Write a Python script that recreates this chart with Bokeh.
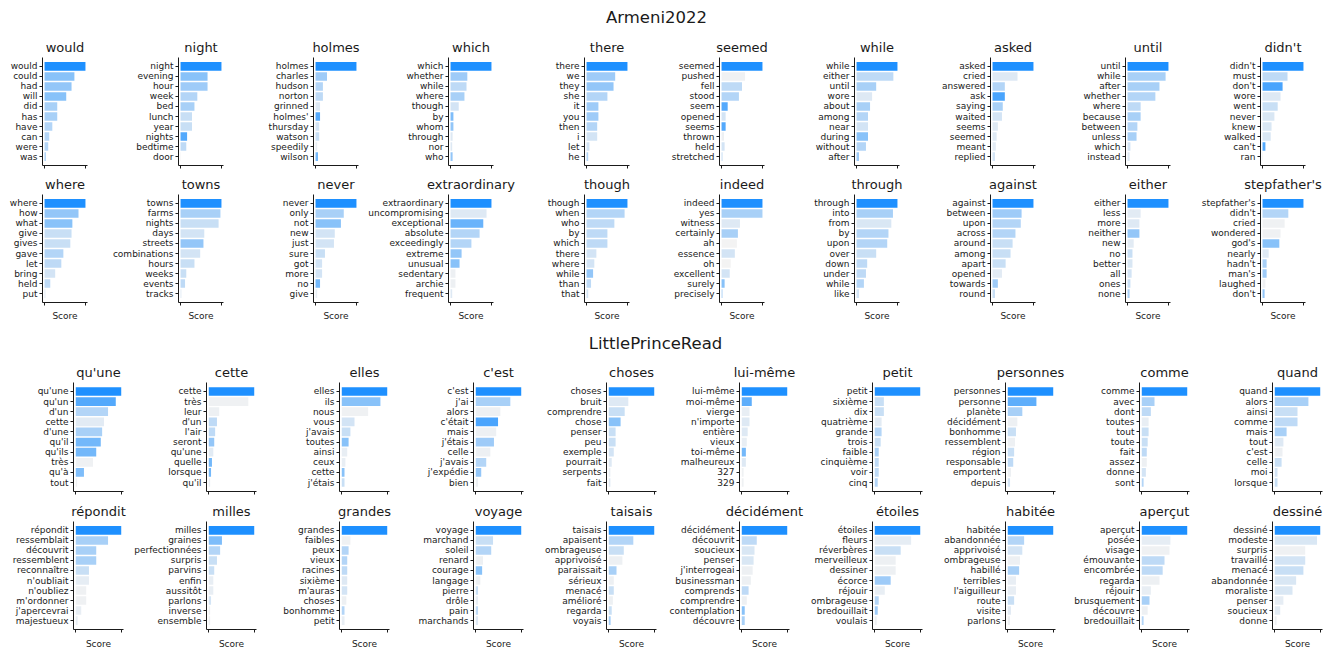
import numpy as np
from bokeh.plotting import figure
from bokeh.layouts import column, row
from bokeh.models import Range1d, FactorRange, FixedTicker, CustomJSTickFormatter
from bokeh.embed import file_html
from bokeh.resources import INLINE
from bokeh.core.properties import value

# ---------------------------------------------------------------- data
SECTION_TITLES = ["Armeni2022", "LittlePrinceRead"]

ARMENI_TITLES = ["would", "night", "holmes", "which", "there", "seemed", "while", "asked", "until", "didn't",
                 "where", "towns", "never", "extraordinary", "though", "indeed", "through", "against", "either",
                 "stepfather's"]

ARMENI_WORDS = [
    ["would", "could", "had", "will", "did", "has", "have", "can", "were", "was"],
    ["night", "evening", "hour", "week", "bed", "lunch", "year", "nights", "bedtime", "door"],
    ["holmes", "charles", "hudson", "norton", "grinned", "holmes'", "thursday", "watson", "speedily", "wilson"],
    ["which", "whether", "while", "where", "though", "by", "whom", "through", "nor", "who"],
    ["there", "we", "they", "she", "it", "you", "then", "i", "let", "he"],
    ["seemed", "pushed", "fell", "stood", "seem", "opened", "seems", "thrown", "held", "stretched"],
    ["while", "either", "until", "wore", "about", "among", "near", "during", "without", "after"],
    ["asked", "cried", "answered", "ask", "saying", "waited", "seems", "seemed", "meant", "replied"],
    ["until", "while", "after", "whether", "where", "because", "between", "unless", "which", "instead"],
    ["didn't", "must", "don't", "wore", "went", "never", "knew", "walked", "can't", "ran"],
    ["where", "how", "what", "give", "gives", "gave", "let", "bring", "held", "put"],
    ["towns", "farms", "nights", "days", "streets", "combinations", "hours", "weeks", "events", "tracks"],
    ["never", "only", "not", "new", "just", "sure", "got", "more", "no", "give"],
    ["extraordinary", "uncompromising", "exceptional", "absolute", "exceedingly", "extreme", "unusual",
     "sedentary", "archie", "frequent"],
    ["though", "when", "who", "by", "which", "there", "where", "while", "than", "that"],
    ["indeed", "yes", "witness", "certainly", "ah", "essence", "oh", "excellent", "surely", "precisely"],
    ["through", "into", "from", "by", "upon", "over", "down", "under", "while", "like"],
    ["against", "between", "upon", "across", "around", "among", "apart", "opened", "towards", "round"],
    ["either", "less", "more", "neither", "new", "no", "better", "all", "ones", "none"],
    ["stepfather's", "didn't", "cried", "wondered", "god's", "nearly", "hadn't", "man's", "laughed", "don't"],
]

ARMENI_SCORES = [
    [1.0, 0.73, 0.66, 0.53, 0.31, 0.31, 0.19, 0.115, 0.09, 0.03],
    [1.0, 0.66, 0.66, 0.41, 0.34, 0.28, 0.28, 0.16, 0.14, 0.01],
    [1.0, 0.28, 0.18, 0.18, 0.11, 0.11, 0.09, 0.09, 0.04, 0.06],
    [1.0, 0.41, 0.39, 0.34, 0.20, 0.07, 0.07, 0.05, 0.04, 0.05],
    [1.0, 0.70, 0.66, 0.51, 0.29, 0.29, 0.26, 0.26, 0.07, 0.04],
    [1.0, 0.575, 0.50, 0.425, 0.15, 0.10, 0.10, 0.06, 0.075, 0.025],
    [1.0, 0.90, 0.48, 0.38, 0.33, 0.28, 0.28, 0.28, 0.23, 0.06],
    [1.0, 0.61, 0.30, 0.30, 0.25, 0.23, 0.13, 0.10, 0.08, 0.06],
    [1.0, 0.93, 0.78, 0.68, 0.32, 0.32, 0.24, 0.22, 0.07, 0.05],
    [1.0, 0.61, 0.49, 0.44, 0.37, 0.29, 0.22, 0.20, 0.07, 0.01],
    [1.0, 0.83, 0.68, 0.66, 0.63, 0.46, 0.41, 0.26, 0.14, 0.02],
    [1.0, 0.975, 0.93, 0.58, 0.56, 0.48, 0.34, 0.14, 0.11, 0.02],
    [1.0, 0.69, 0.62, 0.47, 0.45, 0.23, 0.16, 0.16, 0.11, 0.04],
    [1.0, 0.88, 0.80, 0.71, 0.51, 0.27, 0.22, 0.12, 0.12, 0.04],
    [1.0, 0.93, 0.68, 0.51, 0.51, 0.24, 0.19, 0.16, 0.11, 0.04],
    [1.0, 1.0, 0.45, 0.40, 0.375, 0.325, 0.225, 0.20, 0.075, 0.025],
    [1.0, 0.89, 0.85, 0.78, 0.75, 0.48, 0.26, 0.23, 0.18, 0.06],
    [1.0, 0.71, 0.69, 0.56, 0.49, 0.44, 0.32, 0.23, 0.13, 0.06],
    [1.0, 0.32, 0.29, 0.29, 0.15, 0.12, 0.12, 0.10, 0.07, 0.05],
    [1.0, 0.63, 0.54, 0.44, 0.41, 0.15, 0.10, 0.10, 0.07, 0.05],
]

# colour intensity of each bar (0 = pale grey, 1 = full blue)
ARMENI_SHADES = [
    [1.0, 0.50, 0.45, 0.50, 0.35, 0.35, 0.30, 0.30, 0.30, 0.40],
    [1.0, 0.50, 0.40, 0.30, 0.35, 0.20, 0.20, 0.75, 0.25, 0.00],
    [1.0, 0.40, 0.30, 0.25, 0.10, 0.75, 0.15, 0.20, 0.05, 0.60],
    [1.0, 0.40, 0.25, 0.35, 0.15, 0.55, 0.45, 0.10, 0.10, 0.45],
    [1.0, 0.40, 0.45, 0.30, 0.40, 0.40, 0.30, 0.15, 0.15, 0.30],
    [1.0, 0.02, 0.25, 0.30, 0.75, 0.15, 0.75, 0.03, 0.15, 0.20],
    [1.0, 0.25, 0.35, 0.10, 0.35, 0.30, 0.15, 0.50, 0.30, 0.40],
    [1.0, 0.10, 0.30, 0.80, 0.35, 0.15, 0.10, 0.10, 0.08, 0.15],
    [1.0, 0.35, 0.35, 0.30, 0.25, 0.35, 0.30, 0.35, 0.15, 0.10],
    [1.0, 0.25, 0.80, 0.10, 0.20, 0.12, 0.12, 0.12, 0.75, 0.00],
    [1.0, 0.45, 0.50, 0.20, 0.20, 0.30, 0.25, 0.15, 0.25, 0.10],
    [1.0, 0.35, 0.20, 0.15, 0.45, 0.15, 0.20, 0.20, 0.25, 0.10],
    [1.0, 0.35, 0.50, 0.15, 0.15, 0.20, 0.15, 0.15, 0.60, 0.05],
    [1.0, 0.10, 0.65, 0.30, 0.30, 0.45, 0.50, 0.03, 0.03, 0.10],
    [1.0, 0.30, 0.25, 0.25, 0.25, 0.15, 0.15, 0.45, 0.25, 0.15],
    [1.0, 0.35, 0.10, 0.35, 0.00, 0.15, 0.00, 0.15, 0.50, 0.30],
    [1.0, 0.35, 0.12, 0.30, 0.30, 0.20, 0.25, 0.25, 0.30, 0.15],
    [1.0, 0.40, 0.30, 0.30, 0.20, 0.20, 0.20, 0.08, 0.40, 0.20],
    [1.0, 0.08, 0.10, 0.45, 0.08, 0.20, 0.12, 0.15, 0.20, 0.35],
    [1.0, 0.30, 0.02, 0.02, 0.50, 0.10, 0.35, 0.40, 0.02, 0.45],
]

PRINCE_TITLES = ["qu'une", "cette", "elles", "c'est", "choses", "lui-même", "petit", "personnes", "comme", "quand",
                 "répondit", "milles", "grandes", "voyage", "taisais", "décidément", "étoiles", "habitée", "aperçut",
                 "dessiné"]

PRINCE_WORDS = [
    ["qu'une", "qu'un", "d'un", "cette", "d'une", "qu'il", "qu'ils", "très", "qu'à", "tout"],
    ["cette", "très", "leur", "d'un", "l'air", "seront", "qu'une", "quelle", "lorsque", "qu'il"],
    ["elles", "ils", "nous", "vous", "j'avais", "toutes", "ainsi", "ceux", "cette", "j'étais"],
    ["c'est", "j'ai", "alors", "c'était", "mais", "j'étais", "celle", "j'avais", "j'expédie", "bien"],
    ["choses", "bruit", "comprendre", "chose", "penser", "peu", "exemple", "pourrait", "serpents", "fait"],
    ["lui-même", "moi-même", "vierge", "n'importe", "entière", "vieux", "toi-même", "malheureux", "327", "329"],
    ["petit", "sixième", "dix", "quatrième", "grande", "trois", "faible", "cinquième", "voir", "cinq"],
    ["personnes", "personne", "planète", "décidément", "bonhomme", "ressemblent", "région", "responsable",
     "emportent", "depuis"],
    ["comme", "avec", "dont", "toutes", "tout", "toute", "fait", "assez", "donne", "sont"],
    ["quand", "alors", "ainsi", "comme", "mais", "tout", "c'est", "celle", "moi", "lorsque"],
    ["répondit", "ressemblait", "découvrit", "ressemblent", "reconnaître", "n'oubliait", "n'oubliez",
     "m'ordonner", "j'apercevrai", "majestueux"],
    ["milles", "graines", "perfectionnées", "surpris", "parvins", "enfin", "aussitôt", "parlons", "inverse",
     "ensemble"],
    ["grandes", "faibles", "peux", "vieux", "racines", "sixième", "m'auras", "choses", "bonhomme", "petit"],
    ["voyage", "marchand", "soleil", "renard", "courage", "langage", "pierre", "drôle", "pain", "marchands"],
    ["taisais", "apaisent", "ombrageuse", "apprivoisé", "paraissait", "sérieux", "menacé", "amélioré",
     "regarda", "voyais"],
    ["décidément", "découvrit", "soucieux", "penser", "j'interrogeai", "businessman", "comprends",
     "comprendre", "contemplation", "découvre"],
    ["étoiles", "fleurs", "réverbères", "merveilleux", "dessiner", "écorce", "réjouir", "ombrageuse",
     "bredouillait", "voulais"],
    ["habitée", "abandonnée", "apprivoisé", "ombrageuse", "habillé", "terribles", "l'aiguilleur", "route",
     "visite", "parlons"],
    ["aperçut", "posée", "visage", "émouvante", "encombrée", "regarda", "réjouir", "brusquement", "découvre",
     "bredouillait"],
    ["dessiné", "modeste", "surpris", "travaillé", "menacé", "abandonnée", "moraliste", "penser", "soucieux",
     "donne"],
]

PRINCE_SCORES = [
    [1.0, 0.88, 0.71, 0.62, 0.58, 0.55, 0.45, 0.38, 0.18, 0.03],
    [1.0, 0.87, 0.23, 0.18, 0.14, 0.12, 0.10, 0.07, 0.05, 0.03],
    [1.0, 0.85, 0.58, 0.28, 0.19, 0.15, 0.12, 0.08, 0.06, 0.06],
    [1.0, 0.76, 0.54, 0.49, 0.45, 0.40, 0.32, 0.23, 0.12, 0.05],
    [1.0, 0.43, 0.35, 0.26, 0.15, 0.15, 0.11, 0.065, 0.035, 0.035],
    [1.0, 0.22, 0.17, 0.17, 0.13, 0.11, 0.09, 0.09, 0.04, 0.04],
    [1.0, 0.20, 0.20, 0.15, 0.15, 0.13, 0.087, 0.087, 0.087, 0.065],
    [1.0, 0.63, 0.32, 0.21, 0.18, 0.16, 0.14, 0.12, 0.07, 0.05],
    [1.0, 0.28, 0.20, 0.15, 0.15, 0.13, 0.11, 0.11, 0.09, 0.04],
    [1.0, 0.74, 0.50, 0.50, 0.26, 0.19, 0.17, 0.15, 0.06, 0.06],
    [1.0, 0.71, 0.45, 0.45, 0.29, 0.29, 0.23, 0.23, 0.12, 0.04],
    [1.0, 0.29, 0.25, 0.18, 0.12, 0.10, 0.10, 0.05, 0.03, 0.03],
    [1.0, 0.19, 0.15, 0.12, 0.12, 0.12, 0.12, 0.10, 0.06, 0.06],
    [1.0, 0.38, 0.34, 0.16, 0.14, 0.10, 0.05, 0.05, 0.05, 0.05],
    [1.0, 0.54, 0.33, 0.30, 0.17, 0.11, 0.11, 0.09, 0.065, 0.04],
    [1.0, 0.33, 0.28, 0.26, 0.24, 0.20, 0.15, 0.11, 0.065, 0.065],
    [1.0, 0.80, 0.57, 0.46, 0.46, 0.35, 0.22, 0.087, 0.065, 0.043],
    [1.0, 0.36, 0.32, 0.27, 0.25, 0.18, 0.18, 0.14, 0.07, 0.05],
    [1.0, 0.63, 0.61, 0.50, 0.46, 0.39, 0.20, 0.17, 0.13, 0.04],
    [1.0, 0.93, 0.67, 0.67, 0.63, 0.47, 0.39, 0.19, 0.12, 0.04],
]

PRINCE_SHADES = [
    [1.0, 0.75, 0.30, 0.08, 0.35, 0.60, 0.60, 0.02, 0.55, 0.02],
    [1.0, 0.02, 0.03, 0.25, 0.25, 0.45, 0.08, 0.60, 0.60, 0.05],
    [1.0, 0.50, 0.02, 0.15, 0.20, 0.50, 0.05, 0.05, 0.50, 0.20],
    [1.0, 0.35, 0.03, 0.80, 0.03, 0.40, 0.03, 0.30, 0.45, 0.03],
    [1.0, 0.10, 0.20, 0.50, 0.20, 0.20, 0.15, 0.10, 0.05, 0.10],
    [1.0, 0.70, 0.05, 0.10, 0.10, 0.05, 0.60, 0.10, 0.02, 0.02],
    [1.0, 0.20, 0.20, 0.08, 0.30, 0.20, 0.35, 0.25, 0.25, 0.30],
    [1.0, 0.70, 0.35, 0.03, 0.20, 0.03, 0.20, 0.25, 0.03, 0.15],
    [1.0, 0.35, 0.25, 0.05, 0.20, 0.20, 0.25, 0.03, 0.15, 0.30],
    [1.0, 0.35, 0.20, 0.25, 0.35, 0.10, 0.03, 0.20, 0.15, 0.20],
    [1.0, 0.35, 0.35, 0.35, 0.20, 0.06, 0.02, 0.02, 0.05, 0.05],
    [1.0, 0.55, 0.30, 0.20, 0.20, 0.05, 0.05, 0.15, 0.03, 0.03],
    [1.0, 0.02, 0.30, 0.30, 0.25, 0.10, 0.15, 0.03, 0.30, 0.05],
    [1.0, 0.20, 0.30, 0.03, 0.50, 0.03, 0.20, 0.05, 0.25, 0.10],
    [1.0, 0.30, 0.20, 0.03, 0.35, 0.03, 0.20, 0.03, 0.20, 0.40],
    [1.0, 0.25, 0.12, 0.12, 0.03, 0.03, 0.25, 0.03, 0.50, 0.35],
    [1.0, 0.06, 0.20, 0.03, 0.03, 0.40, 0.05, 0.30, 0.40, 0.03],
    [1.0, 0.30, 0.15, 0.03, 0.35, 0.05, 0.05, 0.20, 0.08, 0.03],
    [1.0, 0.06, 0.02, 0.25, 0.25, 0.03, 0.05, 0.35, 0.03, 0.30],
    [1.0, 0.12, 0.02, 0.15, 0.20, 0.12, 0.12, 0.06, 0.08, 0.03],
]

# ---------------------------------------------------------------- styling
FONT = "DejaVu Sans"
INK = "#1a1a1a"
PALE = np.array([243, 243, 243], dtype=float)
BLUE = np.array([30, 144, 255], dtype=float)
PAGE_W = 1334
TITLE_PX, HEADING_PX = 13, 16.5
BASELINE_LIFT = 0.37      # em fraction: keeps the text baseline where requested in the SVG output

TOP_SPINES = [int(round(42.5 + 135.3 * i)) for i in range(10)]      # frame left edges, Armeni rows
BOTTOM_SPINES = [int(round(73 + 133.2 * i)) for i in range(10)]     # frame left edges, Little Prince rows
TOP_FRAME_W, BOTTOM_FRAME_W = 45, 50


def shade_colour(s):
    c = PALE + (BLUE - PALE) * float(s)
    return "#%02x%02x%02x" % tuple(int(round(v)) for v in c)


def panel(words, scores, shades, left, frame_w, right, frame_h, bottom, label_standoff):
    p = figure(width=left + frame_w + right, height=frame_h + bottom,
               x_range=Range1d(-0.05, 1.05),
               y_range=FactorRange(factors=list(reversed(words)), range_padding=0.39,
                                   range_padding_units="absolute"),
               min_border_left=left, min_border_right=right,
               min_border_top=0, min_border_bottom=bottom,
               output_backend="svg", toolbar_location=None)
    p.hbar(y=words, left=0, right=scores, height=0.86,
           fill_color=[shade_colour(s) for s in shades], line_color=None)

    p.grid.visible = False
    p.outline_line_color = None

    for ax in (p.xaxis[0], p.yaxis[0]):
        ax.axis_line_color = INK
        ax.axis_line_width = 1
        ax.major_tick_line_color = INK
        ax.major_tick_out = 3
        ax.major_tick_in = 0
        ax.minor_tick_line_color = None

    ya = p.yaxis[0]
    ya.major_label_text_font = FONT
    ya.major_label_text_font_size = "9px"
    ya.major_label_text_color = INK
    ya.major_label_standoff = 2

    xa = p.xaxis[0]
    xa.ticker = FixedTicker(ticks=[0, 1])
    xa.formatter = CustomJSTickFormatter(code="return ''")
    xa.major_label_standoff = 0
    xa.major_label_text_font_size = "9px"
    if label_standoff is not None:
        xa.axis_label = "Score"
        xa.axis_label_text_font = FONT
        xa.axis_label_text_font_size = "9px"
        xa.axis_label_text_font_style = "normal"
        xa.axis_label_text_color = INK
        xa.axis_label_standoff = label_standoff
    return p


def title_strip(height, titles, spines, frame_w, baseline, heading=None, heading_x=0, heading_baseline=0):
    """A full-width band holding the panel titles (and optionally a section heading)."""
    s = figure(width=PAGE_W, height=height, x_range=Range1d(0, PAGE_W), y_range=Range1d(height, 0),
               min_border=0, output_backend="svg", toolbar_location=None)
    s.axis.visible = False
    s.grid.visible = False
    s.outline_line_color = None
    s.text(x=[sp + frame_w / 2 for sp in spines],
           y=[baseline - BASELINE_LIFT * TITLE_PX] * len(titles), text=titles,
           text_align="center", text_baseline="alphabetic",
           text_font=value(FONT), text_font_size=f"{TITLE_PX}px", text_color=INK)
    if heading is not None:
        s.text(x=[heading_x], y=[heading_baseline - BASELINE_LIFT * HEADING_PX], text=[heading],
               text_align="center", text_baseline="alphabetic",
               text_font=value(FONT), text_font_size=f"{HEADING_PX}px", text_color=INK)
    return s


def panel_row(words, scores, shades, spines, gutter, frame_w, frame_h, bottom, label_standoff=None):
    starts = [0] + [s - gutter for s in spines[1:]] + [PAGE_W]
    figs = []
    for i in range(len(spines)):
        width = starts[i + 1] - starts[i]
        left = spines[i] - starts[i]
        right = width - left - frame_w
        figs.append(panel(words[i], scores[i], shades[i], left, frame_w, right, frame_h, bottom,
                          label_standoff))
    return row(*figs, spacing=0)


layout = column(
    title_strip(57, ARMENI_TITLES[:10], TOP_SPINES, TOP_FRAME_W, 52,
                heading=SECTION_TITLES[0], heading_x=656, heading_baseline=23),
    panel_row(ARMENI_WORDS[:10], ARMENI_SCORES[:10], ARMENI_SHADES[:10],
              TOP_SPINES, 88, TOP_FRAME_W, 108, 7),
    title_strip(22, ARMENI_TITLES[10:], TOP_SPINES, TOP_FRAME_W, 17),
    panel_row(ARMENI_WORDS[10:], ARMENI_SCORES[10:], ARMENI_SHADES[10:],
              TOP_SPINES, 88, TOP_FRAME_W, 108, 24, label_standoff=5),
    title_strip(56, PRINCE_TITLES[:10], BOTTOM_SPINES, BOTTOM_FRAME_W, 51,
                heading=SECTION_TITLES[1], heading_x=655, heading_baseline=23),
    panel_row(PRINCE_WORDS[:10], PRINCE_SCORES[:10], PRINCE_SHADES[:10],
              BOTTOM_SPINES, 80, BOTTOM_FRAME_W, 109, 7),
    title_strip(23, PRINCE_TITLES[10:], BOTTOM_SPINES, BOTTOM_FRAME_W, 18),
    panel_row(PRINCE_WORDS[10:], PRINCE_SCORES[10:], PRINCE_SHADES[10:],
              BOTTOM_SPINES, 80, BOTTOM_FRAME_W, 109, 21, label_standoff=6),
    spacing=0,
)

with open("out.html", "w") as f:
    f.write(file_html(layout, INLINE))
